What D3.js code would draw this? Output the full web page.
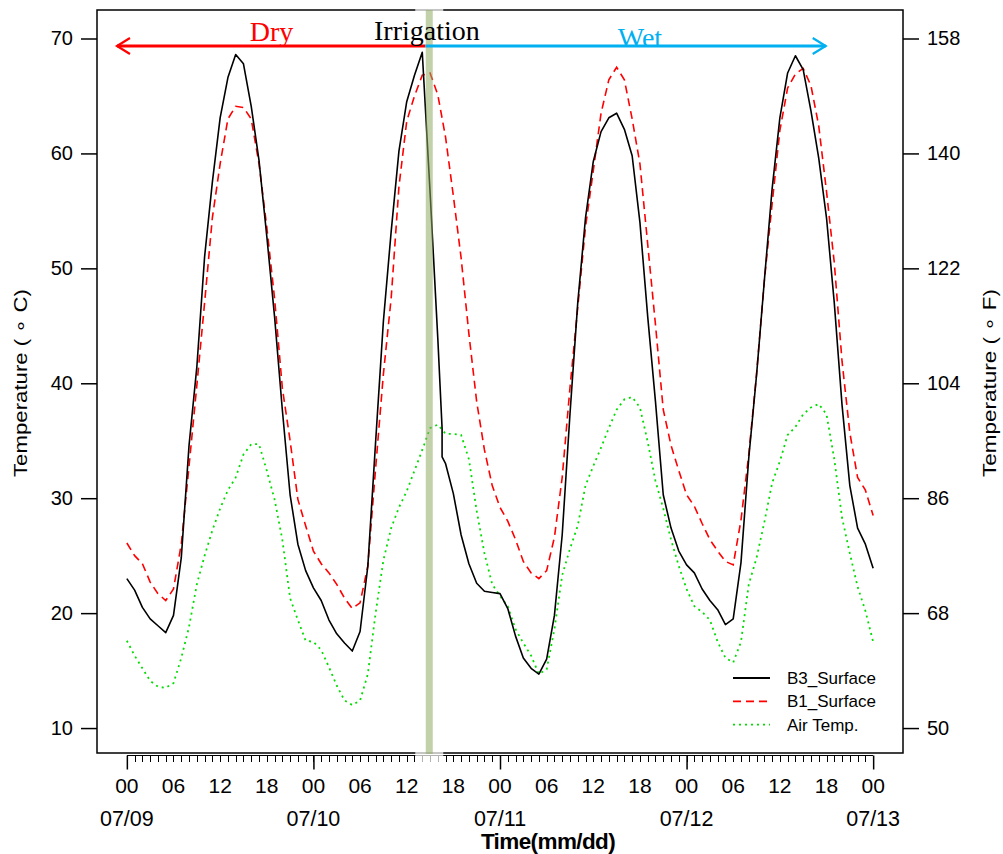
<!DOCTYPE html>
<html><head><meta charset="utf-8">
<script src="https://cdn.jsdelivr.net/npm/d3@7"></script>
<style>body{margin:0;background:#fff} svg{display:block}</style>
</head><body><svg id="chart" width="1003" height="854"></svg>
<script>
// ---- data (hourly, hour 0 = 07/09 00:00) ----
const hours = d3.range(0, 97);
const b3Surface = [
  23.0, 22.0, 20.5, 19.5, 18.9, 18.3, 19.8, 24.8, 34.6, 41.4, 51.0, 57.5, 63.1, 66.6, 68.6, 67.8, 64.1, 59.4, 52.8, 45.8, 37.7, 30.3, 26.0, 23.7,
  22.2, 21.1, 19.4, 18.2, 17.4, 16.7, 18.4, 24.1, 34.9, 45.4, 53.2, 60.2, 64.5, 66.8, 68.8, 56.7, 43.9, 33.0, 30.4, 26.8, 24.3, 22.6, 21.9, 21.8,
  21.7, 20.4, 18.0, 16.1, 15.2, 14.7, 16.0, 19.8, 26.8, 37.3, 47.0, 54.4, 59.3, 61.9, 63.1, 63.5, 62.1, 59.8, 54.0, 45.8, 38.4, 30.3, 27.4, 25.4,
  24.2, 23.5, 22.1, 21.1, 20.3, 19.0, 19.5, 24.4, 33.5, 40.7, 48.9, 56.9, 63.1, 67.0, 68.5, 67.3, 63.7, 59.6, 54.4, 47.0, 38.1, 31.1, 27.4, 26.0, 23.9
];
// abrupt drop of B3 just after irrigation
const b3DropHours = [40.55, 40.55];
const b3DropValues = [36.1, 33.6];
const b1Surface = [
  26.1, 25.0, 24.3, 22.7, 21.7, 21.1, 22.1, 26.0, 32.8, 39.8, 47.0, 54.4, 59.1, 63.0, 64.1, 64.0, 63.0, 59.1, 53.6, 47.4, 39.6, 35.0, 29.9, 27.6,
  25.4, 24.3, 23.5, 22.5, 21.3, 20.4, 20.9, 24.1, 32.6, 40.8, 47.4, 57.1, 62.8, 65.0, 66.8, 67.0, 65.1, 61.4, 56.3, 50.9, 44.3, 38.4, 34.2, 31.1,
  29.2, 28.0, 26.4, 24.5, 23.5, 23.0, 23.7, 26.6, 31.8, 39.6, 46.6, 53.6, 58.5, 63.5, 66.4, 67.5, 66.4, 63.0, 59.1, 52.1, 45.1, 37.7, 34.6, 32.4,
  30.3, 29.3, 27.8, 26.4, 25.4, 24.5, 24.2, 28.1, 33.8, 40.8, 48.9, 55.6, 62.0, 65.7, 66.9, 67.4, 65.9, 62.4, 56.7, 50.5, 41.9, 35.7, 31.8, 30.7, 28.5
];
const airTemp = [
  17.6, 16.3, 15.2, 14.1, 13.6, 13.5, 13.9, 16.1, 18.8, 22.5, 25.0, 27.2, 29.1, 30.7, 31.8, 33.8, 34.7, 34.7, 32.4, 29.9, 26.4, 21.3, 19.4, 17.6,
  17.5, 16.8, 15.3, 13.7, 12.4, 12.0, 12.4, 14.7, 20.0, 24.6, 27.4, 29.2, 30.6, 32.4, 34.2, 36.1, 36.4, 35.6, 35.6, 35.5, 33.4, 28.9, 25.2, 22.5,
  21.5, 20.6, 18.6, 17.4, 16.3, 14.7, 15.1, 18.6, 23.3, 25.6, 27.6, 31.1, 32.8, 34.4, 36.1, 37.7, 38.6, 38.8, 37.9, 34.9, 31.5, 29.1, 26.4, 24.1,
  22.1, 20.6, 20.1, 19.4, 17.5, 16.1, 15.7, 17.5, 22.5, 24.8, 27.9, 31.3, 33.2, 35.5, 36.2, 37.3, 37.9, 38.2, 37.3, 33.4, 28.3, 25.2, 22.3, 20.2, 17.5
];
const celsiusTicks = [10, 20, 30, 40, 50, 60, 70];
const fahrenheitLabels = ["50", "68", "86", "104", "122", "140", "158"];
const hourLabelTicks = [0, 6, 12, 18, 24, 30, 36, 42, 48, 54, 60, 66, 72, 78, 84, 90, 96];
const hourLabels = ["00","06","12","18","00","06","12","18","00","06","12","18","00","06","12","18","00"];
const dayTicks = [0, 24, 48, 72, 96];
const dayLabels = ["07/09", "07/10", "07/11", "07/12", "07/13"];
const seriesNames = ["B3_Surface", "B1_Surface", "Air Temp."];
const irrigationHour = 38.9;
const dryArrowHours = [-1.27, 38.4];
const wetArrowHours = [38.4, 89.9];

// ---- layout ----
const svg = d3.select("#chart");
const L = 97, R = 903, T = 10, B = 753;
const x = d3.scaleLinear().domain([-3.84, 99.84]).range([L, R]);
const y = d3.scaleLinear().domain([7.83, 72.48]).range([B, T]);
const sans = "'Liberation Sans', Arial, Helvetica, sans-serif";
const serif = "'Liberation Serif', 'Times New Roman', serif";

// box
svg.append("rect").attr("x", L).attr("y", T).attr("width", R - L).attr("height", B - T)
  .attr("fill", "none").attr("stroke", "#000").attr("stroke-width", 1.5);

// left axis
const ga = svg.append("g").attr("transform", `translate(${L},0)`)
  .call(d3.axisLeft(y).tickValues(celsiusTicks).tickSize(16).tickPadding(8));
ga.select(".domain").remove();
ga.selectAll("line").attr("stroke-width", 1.5);
ga.selectAll("text").attr("font-family", sans).attr("font-size", 20).attr("fill", "#000");

// right axis
const gr = svg.append("g").attr("transform", `translate(${R},0)`)
  .call(d3.axisRight(y).tickValues(celsiusTicks).tickSize(16).tickPadding(8)
    .tickFormat((d, i) => fahrenheitLabels[i]));
gr.select(".domain").remove();
gr.selectAll("line").attr("stroke-width", 1.5);
gr.selectAll("text").attr("font-family", sans).attr("font-size", 20).attr("fill", "#000");

// bottom axis
const axisY = 755.5;
svg.append("line").attr("x1", x(0)).attr("x2", x(96)).attr("y1", axisY).attr("y2", axisY)
  .attr("stroke", "#000").attr("stroke-width", 1.2).attr("shape-rendering", "crispEdges");
const gm = svg.append("g").attr("transform", `translate(0,${axisY})`)
  .call(d3.axisBottom(x).tickValues(hours).tickSize(6).tickFormat(""));
gm.select(".domain").remove();
gm.selectAll("line").attr("stroke-width", 1).attr("shape-rendering", "crispEdges");
const gd = svg.append("g").attr("transform", `translate(0,${axisY})`)
  .call(d3.axisBottom(x).tickValues(dayTicks).tickSize(14).tickFormat(""));
gd.select(".domain").remove();
gd.selectAll("line").attr("stroke-width", 1.5);

svg.append("g").selectAll("text").data(hourLabelTicks).join("text")
  .attr("x", d => x(d)).attr("y", 793).attr("text-anchor", "middle")
  .attr("font-family", sans).attr("font-size", 21).text((d, i) => hourLabels[i]);
svg.append("g").selectAll("text").data(dayTicks).join("text")
  .attr("x", d => x(d)).attr("y", 826).attr("text-anchor", "middle")
  .attr("font-family", sans).attr("font-size", 21.5).text((d, i) => dayLabels[i]);
svg.append("text").attr("x", 548).attr("y", 849).attr("text-anchor", "middle")
  .attr("font-family", sans).attr("font-size", 22.5).attr("font-weight", "bold")
  .attr("letter-spacing", -0.6).text("Time(mm/dd)");

// axis titles
svg.append("text").attr("transform", "translate(27,383) rotate(-90)").attr("text-anchor", "middle")
  .attr("font-family", sans).attr("font-size", 19)
  .attr("textLength", 188).attr("lengthAdjust", "spacingAndGlyphs")
  .text("Temperature ( \u2218 C)");
svg.append("text").attr("transform", "translate(996,383) rotate(-90)").attr("text-anchor", "middle")
  .attr("font-family", sans).attr("font-size", 19)
  .attr("textLength", 188).attr("lengthAdjust", "spacingAndGlyphs")
  .text("Temperature ( \u2218 F)");

// irrigation halo (behind curves)
const xi = x(irrigationHour);
svg.append("rect").attr("x", xi - 14).attr("y", 7).attr("width", 28).attr("height", 757)
  .attr("fill", "#fff").attr("opacity", 0.7);

// curves
const line = d3.line().x(d => x(d[0])).y(d => y(d[1]));
const b3Hourly = hours.map((h, i) => [h, b3Surface[i]]);
const b3Points = b3Hourly.filter(p => p[0] < b3DropHours[0])
  .concat(b3DropHours.map((h, i) => [h, b3DropValues[i]]))
  .concat(b3Hourly.filter(p => p[0] > b3DropHours[0]));
svg.append("path").datum(airTemp.map((v, i) => [hours[i], v])).attr("d", line)
  .attr("fill", "none").attr("stroke", "#00dd00").attr("stroke-width", 1.8).attr("stroke-dasharray", "2,4");
svg.append("path").datum(b1Surface.map((v, i) => [hours[i], v])).attr("d", line)
  .attr("fill", "none").attr("stroke", "#ff0000").attr("stroke-width", 1.6).attr("stroke-dasharray", "8,5");
svg.append("path").datum(b3Points).attr("d", line)
  .attr("fill", "none").attr("stroke", "#000").attr("stroke-width", 1.6).attr("stroke-linejoin", "round");

// irrigation bar
svg.append("rect").attr("x", xi - 3.5).attr("y", T).attr("width", 7).attr("height", B - T + 1)
  .attr("fill", "#8fab62").attr("opacity", 0.55);

// arrows
const ay = 46;
function arrow(h0, h1, color, dir) {
  svg.append("line").attr("x1", x(h0)).attr("x2", x(h1)).attr("y1", ay).attr("y2", ay)
    .attr("stroke", color).attr("stroke-width", 2.8);
  const tip = dir < 0 ? x(h0) : x(h1);
  svg.append("polyline")
    .attr("points", `${tip - dir * 13},${ay - 8} ${tip},${ay} ${tip - dir * 13},${ay + 8}`)
    .attr("fill", "none").attr("stroke", color).attr("stroke-width", 2.2);
}
arrow(dryArrowHours[0], dryArrowHours[1], "#ff0000", -1);
arrow(wetArrowHours[0], wetArrowHours[1], "#00b0f0", 1);
svg.append("text").attr("x", x(18.6)).attr("y", 41).attr("text-anchor", "middle")
  .attr("font-family", serif).attr("font-size", 28).attr("fill", "#ff0000").text("Dry");
svg.append("text").attr("x", x(38.6)).attr("y", 40).attr("text-anchor", "middle")
  .attr("font-family", serif).attr("font-size", 28).attr("fill", "#000").text("Irrigation");
svg.append("text").attr("x", x(66.0)).attr("y", 47).attr("text-anchor", "middle")
  .attr("font-family", serif).attr("font-size", 28).attr("fill", "#00b0f0").text("Wet");

// legend
const legendStyles = [
  {color: "#000", dash: null, w: 1.8},
  {color: "#ff0000", dash: "8,5", w: 1.8},
  {color: "#00dd00", dash: "2,4", w: 1.8}
];
const lg = svg.append("g");
seriesNames.forEach((name, i) => {
  const ly = 678 + i * 23.3;
  lg.append("line").attr("x1", 733).attr("x2", 770).attr("y1", ly).attr("y2", ly)
    .attr("stroke", legendStyles[i].color).attr("stroke-width", legendStyles[i].w)
    .attr("stroke-dasharray", legendStyles[i].dash);
  lg.append("text").attr("x", 787).attr("y", ly).attr("dy", "0.35em")
    .attr("font-family", sans).attr("font-size", 17).text(name);
});
</script></body></html>
